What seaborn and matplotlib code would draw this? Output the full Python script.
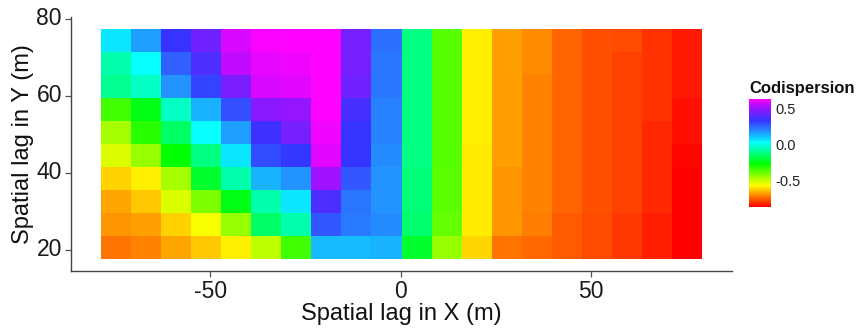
import colorsys
import numpy as np
import pandas as pd
import matplotlib
matplotlib.use("Agg")
import matplotlib.pyplot as plt
from matplotlib.colors import ListedColormap
import seaborn as sns

# ---- data ----
x_lags = [-74.8, -66.9, -59.1, -51.2, -43.3, -35.4, -27.6, -19.7, -11.8, -3.9,
          3.9, 11.8, 19.7, 27.6, 35.4, 43.3, 51.2, 59.1, 66.9, 74.8]
# rows from top (largest lag) to bottom
y_lags = [74.5, 68.5, 62.4, 56.4, 50.3, 44.3, 38.2, 32.2, 26.1, 20.1]

row_745 = [0.06, 0.16, 0.34, 0.44, 0.59, 0.63, 0.64, 0.64, 0.45, 0.24, -0.12, -0.37, -0.59, -0.69, -0.71, -0.76, -0.78, -0.79, -0.82, -0.85]
row_685 = [-0.07, 0.03, 0.26, 0.38, 0.56, 0.61, 0.62, 0.64, 0.45, 0.23, -0.12, -0.37, -0.59, -0.69, -0.71, -0.76, -0.78, -0.80, -0.82, -0.85]
row_624 = [-0.10, -0.04, 0.18, 0.31, 0.46, 0.59, 0.60, 0.64, 0.44, 0.23, -0.12, -0.37, -0.59, -0.69, -0.72, -0.76, -0.78, -0.80, -0.82, -0.85]
row_564 = [-0.35, -0.25, -0.04, 0.13, 0.29, 0.48, 0.50, 0.64, 0.37, 0.21, -0.12, -0.37, -0.59, -0.69, -0.72, -0.76, -0.78, -0.80, -0.82, -0.86]
row_503 = [-0.47, -0.32, -0.15, 0.03, 0.16, 0.36, 0.45, 0.62, 0.34, 0.21, -0.12, -0.37, -0.59, -0.69, -0.72, -0.76, -0.78, -0.80, -0.83, -0.86]
row_443 = [-0.53, -0.45, -0.27, -0.12, 0.06, 0.30, 0.33, 0.60, 0.34, 0.19, -0.12, -0.37, -0.60, -0.69, -0.72, -0.76, -0.78, -0.80, -0.83, -0.87]
row_382 = [-0.63, -0.59, -0.47, -0.22, -0.07, 0.13, 0.18, 0.51, 0.28, 0.18, -0.13, -0.38, -0.60, -0.70, -0.72, -0.76, -0.78, -0.80, -0.83, -0.88]
row_322 = [-0.68, -0.64, -0.53, -0.42, -0.25, -0.07, 0.06, 0.38, 0.23, 0.18, -0.13, -0.38, -0.60, -0.70, -0.72, -0.76, -0.78, -0.80, -0.83, -0.88]
row_261 = [-0.70, -0.69, -0.63, -0.57, -0.45, -0.15, -0.07, 0.28, 0.22, 0.19, -0.14, -0.39, -0.60, -0.70, -0.73, -0.77, -0.79, -0.81, -0.84, -0.88]
row_201 = [-0.74, -0.72, -0.68, -0.64, -0.59, -0.50, -0.35, 0.12, 0.12, 0.13, -0.22, -0.45, -0.62, -0.74, -0.75, -0.77, -0.79, -0.81, -0.84, -0.88]

x_ticks = [-50, 0, 50]
y_ticks = [20, 40, 60, 80]
cbar_ticks = [0.5, 0.0, -0.5]
vmin, vmax = -0.88, 0.64

# ---- style ----
sns.set_theme(style="white")
plt.rcParams['font.family'] = ['Liberation Sans', 'DejaVu Sans']
plt.rcParams['axes.unicode_minus'] = False

# rainbow colormap: red -> magenta, blues slightly lightened
hue_deg = np.linspace(0.0, 300.0, 256)
sat = 1.0 - 0.2 * np.exp(-((hue_deg - 235.0) / 40.0) ** 2)
cmap = ListedColormap([colorsys.hsv_to_rgb(h / 360.0, s, 1.0)
                       for h, s in zip(hue_deg, sat)])

df = pd.DataFrame([row_745, row_685, row_624, row_564, row_503,
                   row_443, row_382, row_322, row_261, row_201],
                  index=y_lags, columns=x_lags)

W, H = 863, 335
fig = plt.figure(figsize=(W / 100, H / 100), dpi=100)
ax = fig.add_axes([71 / W, 1 - 271 / H, (732 - 71) / W, (271 - 17) / H])
cax = fig.add_axes([749 / W, 1 - 207 / H, 22 / W, 108 / H])

sns.heatmap(df, ax=ax, cmap=cmap, vmin=vmin, vmax=vmax, cbar_ax=cax,
            cbar_kws=dict(ticks=cbar_ticks), linewidths=0)

# map numeric lags to heatmap cell index positions
dx = x_lags[1] - x_lags[0]
dy = y_lags[0] - y_lags[1]
def xi(v):
    return (v - x_lags[0]) / dx + 0.5
def yi(v):
    return (y_lags[0] - v) / dy + 0.5

nx, ny = len(x_lags), len(y_lags)
ax.set_xlim(-0.05 * nx, nx * 1.05)
ax.set_ylim(ny + 0.05 * ny, -0.05 * ny)
ax.set_xticks([xi(v) for v in x_ticks])
ax.set_xticklabels([str(v) for v in x_ticks], rotation=0)
ax.set_yticks([yi(v) for v in y_ticks])
ax.set_yticklabels([str(v) for v in y_ticks], rotation=0)

for side in ['left', 'bottom']:
    ax.spines[side].set_visible(True)
    ax.spines[side].set_color('#444444')
    ax.spines[side].set_linewidth(1.0)
for side in ['top', 'right']:
    ax.spines[side].set_visible(False)

ax.tick_params(axis='both', which='both', length=4, width=0.9, color='#555555',
               labelsize=16.5, labelcolor='#1a1a1a', pad=2.5,
               bottom=True, left=True)
ax.set_xlabel("Spatial lag in X (m)", fontsize=17, color='#111111', labelpad=0)
ax.set_ylabel("Spatial lag in Y (m)", fontsize=17, color='#111111', labelpad=2)

# colorbar styling
cbar = ax.collections[0].colorbar
cbar.outline.set_visible(False)
cax.tick_params(length=0, labelsize=10.5, labelcolor='#222222', pad=3)
cax.set_yticklabels(['0.5', '0.0', '-0.5'])
fig.text(749 / W, 1 - 88 / H, "Codispersion", fontsize=12, fontweight='bold',
         ha='left', va='center', color='#111111')

fig.savefig("out.png", dpi=100)
